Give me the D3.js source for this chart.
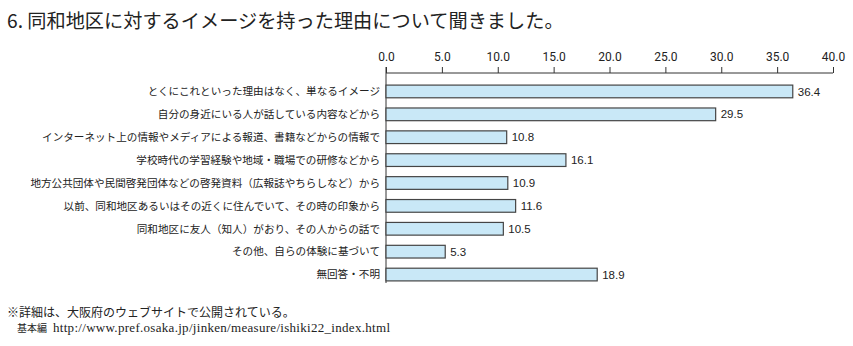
<!DOCTYPE html>
<html><head><meta charset="utf-8">
<script src="https://cdn.jsdelivr.net/npm/d3@7"></script>
<style>
body{margin:0;background:#fff;}
svg{display:block;}
</style></head>
<body>
<svg id="chart" width="853" height="346"></svg>
<script>
const title = "6. 同和地区に対するイメージを持った理由について聞きました。";
const categories = [
  "とくにこれといった理由はなく、単なるイメージ",
  "自分の身近にいる人が話している内容などから",
  "インターネット上の情報やメディアによる報道、書籍などからの情報で",
  "学校時代の学習経験や地域・職場での研修などから",
  "地方公共団体や民間啓発団体などの啓発資料（広報誌やちらしなど）から",
  "以前、同和地区あるいはその近くに住んでいて、その時の印象から",
  "同和地区に友人（知人）がおり、その人からの話で",
  "その他、自らの体験に基づいて",
  "無回答・不明"
];
const values = [36.4, 29.5, 10.8, 16.1, 10.9, 11.6, 10.5, 5.3, 18.9];
const tickValues = [0, 5, 10, 15, 20, 25, 30, 35, 40];
const footnote1 = "※詳細は、大阪府のウェブサイトで公開されている。";
const footnote2Label = "基本編";
const footnote2Url = "http://www.pref.osaka.jp/jinken/measure/ishiki22_index.html";

const svg = d3.select("#chart");
const sans = "'Noto Sans CJK JP', 'Noto Sans', sans-serif";
const serif = "'Liberation Serif', 'Noto Sans CJK JP', serif";

const x = d3.scaleLinear().domain([0, 40]).range([386, 833]);
const y = d3.scaleBand().domain(categories).range([80, 286])
  .paddingInner(0.445).paddingOuter(0.2225);

svg.append("text").attr("x", 7).attr("y", 28)
  .attr("font-family", sans).attr("font-size", 19.2).attr("fill", "#222")
  .text(title);

// top axis
const axis = d3.axisTop(x).tickValues(tickValues).tickSize(6).tickPadding(6)
  .tickFormat(d3.format(".1f"));
const gAxis = svg.append("g").attr("transform", "translate(0,73)").call(axis);
gAxis.select(".domain").attr("stroke", "#333").attr("d", `M${x(0)},0H${x(40)}`);
gAxis.selectAll(".tick line").attr("stroke", "#333");
gAxis.selectAll(".tick text").attr("font-family", "'Liberation Sans Narrow', 'Roboto', sans-serif")
  .attr("font-size", 12).attr("fill", "#222");

// vertical axis line
svg.append("line").attr("x1", x(0)).attr("x2", x(0)).attr("y1", 67).attr("y2", 283)
  .attr("stroke", "#333").attr("stroke-width", 1);

// bars
svg.append("g").selectAll("rect").data(values).join("rect")
  .attr("x", x(0))
  .attr("y", (d, i) => y(categories[i]))
  .attr("width", d => x(d) - x(0))
  .attr("height", y.bandwidth())
  .attr("fill", "#c9e8f7")
  .attr("stroke", "#454545").attr("stroke-width", 1.2);

// value labels
svg.append("g").selectAll("text").data(values).join("text")
  .attr("x", d => x(d) + 5)
  .attr("y", (d, i) => y(categories[i]) + y.bandwidth() / 2)
  .attr("dy", "0.36em")
  .attr("font-family", "'Liberation Sans', Arial, sans-serif")
  .attr("font-size", 11.5).attr("fill", "#222")
  .text(d => d.toFixed(1));

// category labels
svg.append("g").selectAll("text").data(categories).join("text")
  .attr("x", 380)
  .attr("y", d => y(d) + y.bandwidth() / 2)
  .attr("dy", "0.36em")
  .attr("text-anchor", "end")
  .attr("font-family", sans).attr("font-size", 10.6).attr("fill", "#222")
  .text(d => d);

// footnotes
svg.append("text").attr("x", 7).attr("y", 317)
  .attr("font-family", serif).attr("font-size", 12).attr("fill", "#222")
  .text(footnote1);
svg.append("text").attr("x", 17).attr("y", 332)
  .attr("font-family", serif).attr("font-size", 10).attr("fill", "#222")
  .text(footnote2Label);
svg.append("text").attr("x", 53).attr("y", 332)
  .attr("font-family", serif).attr("font-size", 13).attr("fill", "#222")
  .attr("textLength", 337).attr("lengthAdjust", "spacing")
  .text(footnote2Url);
</script>
</body></html>
